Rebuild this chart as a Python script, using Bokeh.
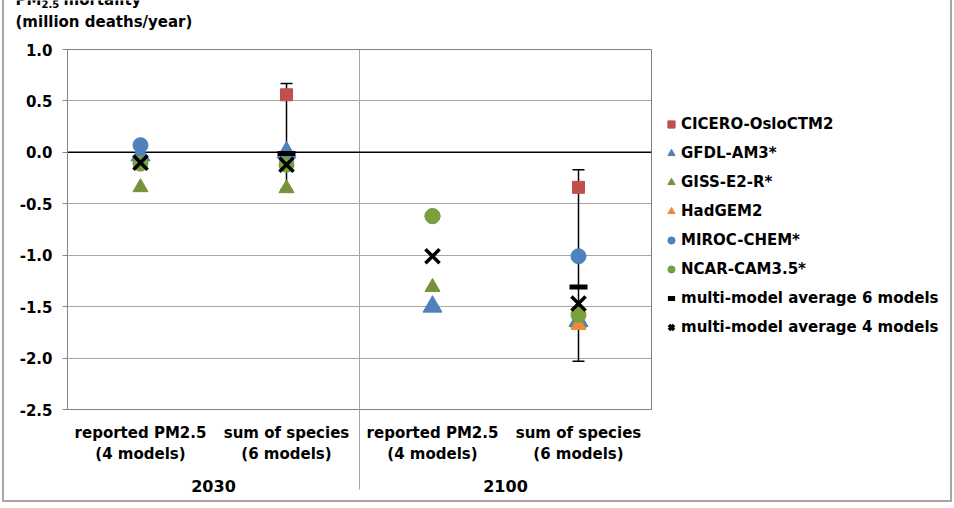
from bokeh.plotting import figure
from bokeh.layouts import column, row
from bokeh.models import (ColumnDataSource, Range1d, FixedTicker, LinearAxis, Grid, Span,
                          Whisker, TeeHead, Legend, LegendItem, Label)
from bokeh.embed import file_html
from bokeh.resources import INLINE

# ---------------- data ----------------
categories = ["reported PM2.5\n(4 models)", "sum of species\n(6 models)",
              "reported PM2.5\n(4 models)", "sum of species\n(6 models)"]
years = ["2030", "2100"]
y_ticks = [-2.5, -2.0, -1.5, -1.0, -0.5, 0.0, 0.5, 1.0]
y_tick_labels = ["-2.5", "-2.0", "-1.5", "-1.0", "-0.5", "0.0", "0.5", "1.0"]

cicero = [None, 0.56, None, -0.34]
gfdl = [-0.03, 0.00, -1.50, -1.64]
giss = [-0.34, -0.35, -1.31, -1.66]
hadgem = [None, -0.10, None, -1.68]
miroc = [0.07, -0.05, -0.62, -1.01]
ncar = [-0.11, -0.12, -0.62, -1.58]
avg6 = [None, -0.01, None, -1.31]
avg4 = [-0.10, -0.12, -1.01, -1.47]
err_upper = [None, 0.67, None, -0.17]
err_lower = [None, -0.36, None, -2.03]

series_names = ["CICERO-OsloCTM2", "GFDL-AM3*", "GISS-E2-R*", "HadGEM2", "MIROC-CHEM*",
                "NCAR-CAM3.5*", "multi-model average 6 models", "multi-model average 4 models"]

FONT = "DejaVu Sans"
GRID = "#A6A6A6"

styles = [
    dict(marker="square", size=12, fill_color="#C0504D", line_color="#C0504D"),
    dict(marker="triangle", size=19, fill_color="#4F81BD", line_color="#4F81BD"),
    dict(marker="triangle", size=15, fill_color="#76923C", line_color="#76923C"),
    dict(marker="triangle", size=15, fill_color="#EB8A3A", line_color="#EB8A3A"),
    dict(marker="circle", size=15, fill_color="#4F81BD", line_color="#4F81BD"),
    dict(marker="circle", size=15, fill_color="#7AA03E", line_color="#7AA03E"),
    dict(marker="dash", size=18, line_width=5, line_color="black"),
    dict(marker="x", size=20, line_width=3.5, line_color="black"),
]
series = [cicero, gfdl, giss, hadgem, miroc, ncar, avg6, avg4]

cat_x = [i + 0.5 for i in range(len(categories))]
year_x = [2 * i + 1 for i in range(len(years))]
divider = len(categories) / 2


def src(vals):
    xs = [cat_x[i] for i, v in enumerate(vals) if v is not None]
    ys = [v for v in vals if v is not None]
    return ColumnDataSource(dict(x=xs, y=ys))


sources = [src(v) for v in series]

TOTAL_W = 946
TITLE_H = 30
MAIN_W, MAIN_H = 648, 470
LEG_W = TOTAL_W - MAIN_W

# ---------------- title strip ----------------
pt = figure(width=TOTAL_W, height=TITLE_H, x_range=Range1d(0, 1), y_range=Range1d(0, 1),
            output_backend="svg", toolbar_location=None, x_axis_location=None,
            y_axis_location=None, min_border=0)
pt.outline_line_color = None
pt.grid.visible = False
pt.background_fill_color = "white"
pt.border_fill_color = "white"
for txt, x, y, fs in [("PM", 11, 31, "15px"), ("2.5", 37, 27, "10px"),
                      ("mortality", 59, 31, "15px"), ("(million deaths/year)", 11, 9, "15px")]:
    pt.add_layout(Label(x=x, y=y, x_units="screen", y_units="screen", text=txt,
                        text_font=FONT, text_font_style="bold", text_font_size=fs,
                        text_color="black", text_baseline="alphabetic", text_align="left"))

# ---------------- main plot ----------------
p = figure(width=MAIN_W, height=MAIN_H, x_range=Range1d(0, len(categories)),
           y_range=Range1d(-2.5, 1.0), output_backend="svg", toolbar_location=None,
           x_axis_location=None, min_border_left=63, min_border_right=1,
           min_border_top=19, min_border_bottom=91)
p.background_fill_color = "white"
p.border_fill_color = "white"
p.outline_line_color = "#7F7F7F"
p.outline_line_width = 1

for g in p.xgrid:
    g.visible = False

yt = FixedTicker(ticks=y_ticks)
p.yaxis.ticker = yt
p.yaxis.major_label_overrides = {t: l for t, l in zip(y_ticks, y_tick_labels)}
p.yaxis.major_label_text_font = FONT
p.yaxis.major_label_text_font_style = "bold"
p.yaxis.major_label_text_font_size = "15px"
p.yaxis.major_label_text_color = "black"
p.yaxis.major_tick_out = 5
p.yaxis.major_tick_in = 0
p.yaxis.minor_tick_out = 0
p.yaxis.minor_tick_in = 0
p.yaxis.axis_line_color = "#868686"
p.yaxis.major_tick_line_color = "#868686"
p.yaxis.major_label_standoff = 10
p.ygrid.ticker = yt
p.ygrid.grid_line_color = GRID

p.add_layout(Grid(dimension=0, ticker=FixedTicker(ticks=[divider]), grid_line_color=GRID))

ax1 = LinearAxis(ticker=FixedTicker(ticks=cat_x, minor_ticks=[divider]),
                 major_label_overrides={x: l for x, l in zip(cat_x, categories)},
                 major_tick_out=0, major_tick_in=0, minor_tick_out=80, minor_tick_in=0,
                 minor_tick_line_color=GRID, axis_line_color=None,
                 major_label_text_font=FONT, major_label_text_font_style="bold",
                 major_label_text_font_size="15px", major_label_text_color="black",
                 major_label_standoff=-66, major_label_text_line_height=1.2)
p.add_layout(ax1, "below")
ax2 = LinearAxis(ticker=FixedTicker(ticks=year_x),
                 major_label_overrides={x: l for x, l in zip(year_x, years)},
                 major_tick_out=0, major_tick_in=0, minor_tick_out=0, minor_tick_in=0,
                 axis_line_color=None,
                 major_label_text_font=FONT, major_label_text_font_style="bold",
                 major_label_text_font_size="16px", major_label_text_color="black",
                 major_label_standoff=13)
p.add_layout(ax2, "below")

p.add_layout(Span(location=0, dimension="width", line_color="black", line_width=1.5,
                  level="underlay"))

ex = [cat_x[i] for i, v in enumerate(err_upper) if v is not None]
eu = [v for v in err_upper if v is not None]
el = [v for v in err_lower if v is not None]
esrc = ColumnDataSource(dict(x=ex, upper=eu, lower=el))
p.add_layout(Whisker(source=esrc, base="x", upper="upper", lower="lower", dimension="height",
                     line_color="black", line_width=1.5, level="underlay",
                     upper_head=TeeHead(size=12, line_color="black", line_width=1.5),
                     lower_head=TeeHead(size=12, line_color="black", line_width=1.5)))

for s, st in zip(sources, styles):
    p.scatter("x", "y", source=s, **st)

# ---------------- legend strip ----------------
# same series drawn with a view range far away from the data, so only the legend shows
pl = figure(width=LEG_W, height=MAIN_H, x_range=Range1d(-100, -99), y_range=Range1d(-100, -99),
            output_backend="svg", toolbar_location=None, x_axis_location=None,
            y_axis_location=None, min_border=0)
pl.outline_line_color = None
pl.grid.visible = False
pl.background_fill_color = "white"
pl.border_fill_color = "white"
leg_items = []
for name, s, st in zip(series_names, sources, styles):
    r = pl.scatter("x", "y", source=s, **st)
    leg_items.append(LegendItem(label=name, renderers=[r]))
legend = Legend(items=leg_items, location=(10, 70), orientation="vertical",
                glyph_width=18, glyph_height=24, label_height=24, spacing=5, padding=0,
                margin=0, label_standoff=1, border_line_color=None, background_fill_alpha=0,
                label_text_font=FONT, label_text_font_style="bold",
                label_text_font_size="15px", label_text_color="black")
pl.add_layout(legend)

layout = column(pt, row(p, pl),
                styles={"border": "2px solid #A6A6A6", "margin-top": "-2px",
                        "margin-left": "2px"})

open("out.html", "w").write(file_html(layout, INLINE))
